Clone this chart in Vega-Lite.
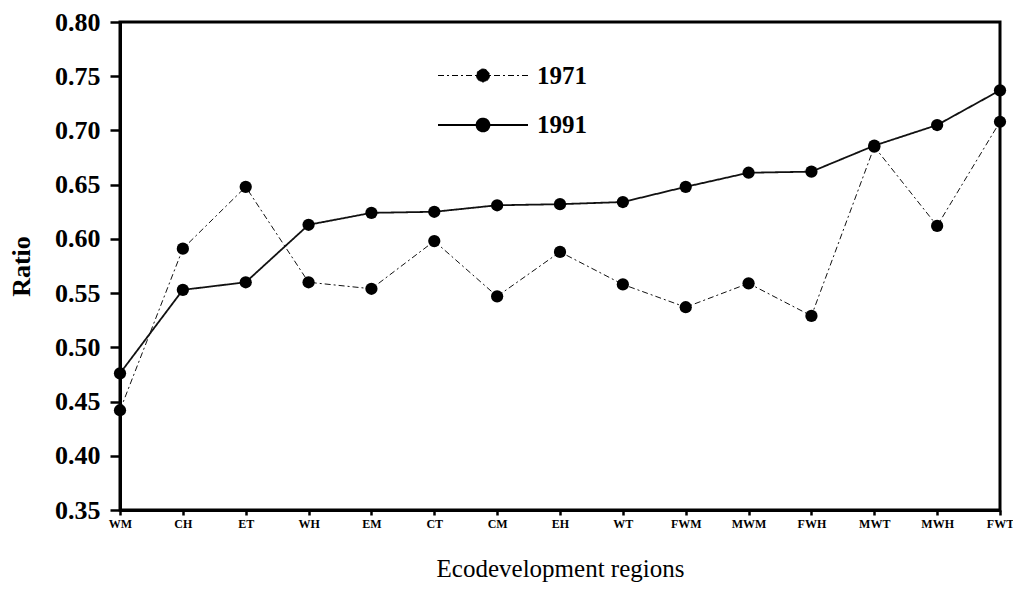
{
  "$schema": "https://vega.github.io/schema/vega-lite/v6.json",
  "width": 880,
  "height": 488,
  "autosize": {"type": "none"},
  "padding": {"left": 120, "top": 22, "right": 13, "bottom": 79},
  "background": "white",
  "config": {
    "view": {"stroke": "black", "strokeWidth": 3},
    "font": "Liberation Serif",
    "axis": {"grid": false, "domainColor": "black", "domainWidth": 3, "tickColor": "black", "tickWidth": 2.5, "labelColor": "black", "titleColor": "black", "labelFont": "Liberation Serif", "titleFont": "Liberation Serif"}
  },
  "data": {
    "values": [
      {"region": "WM", "year": "1971", "ratio": 0.442},
      {"region": "CH", "year": "1971", "ratio": 0.591},
      {"region": "ET", "year": "1971", "ratio": 0.648},
      {"region": "WH", "year": "1971", "ratio": 0.560},
      {"region": "EM", "year": "1971", "ratio": 0.554},
      {"region": "CT", "year": "1971", "ratio": 0.598},
      {"region": "CM", "year": "1971", "ratio": 0.547},
      {"region": "EH", "year": "1971", "ratio": 0.588},
      {"region": "WT", "year": "1971", "ratio": 0.558},
      {"region": "FWM", "year": "1971", "ratio": 0.537},
      {"region": "MWM", "year": "1971", "ratio": 0.559},
      {"region": "FWH", "year": "1971", "ratio": 0.529},
      {"region": "MWT", "year": "1971", "ratio": 0.685},
      {"region": "MWH", "year": "1971", "ratio": 0.612},
      {"region": "FWT", "year": "1971", "ratio": 0.708},
      {"region": "WM", "year": "1991", "ratio": 0.476},
      {"region": "CH", "year": "1991", "ratio": 0.553},
      {"region": "ET", "year": "1991", "ratio": 0.560},
      {"region": "WH", "year": "1991", "ratio": 0.613},
      {"region": "EM", "year": "1991", "ratio": 0.624},
      {"region": "CT", "year": "1991", "ratio": 0.625},
      {"region": "CM", "year": "1991", "ratio": 0.631},
      {"region": "EH", "year": "1991", "ratio": 0.632},
      {"region": "WT", "year": "1991", "ratio": 0.634},
      {"region": "FWM", "year": "1991", "ratio": 0.648},
      {"region": "MWM", "year": "1991", "ratio": 0.661},
      {"region": "FWH", "year": "1991", "ratio": 0.662},
      {"region": "MWT", "year": "1991", "ratio": 0.686},
      {"region": "MWH", "year": "1991", "ratio": 0.705},
      {"region": "FWT", "year": "1991", "ratio": 0.737}
    ]
  },
  "encoding": {
    "x": {
      "field": "region", "type": "ordinal", "sort": null,
      "scale": {"type": "point", "padding": 0},
      "axis": {"title": "Ecodevelopment regions", "labelAngle": 0, "labelFontSize": 12, "labelFontWeight": "bold", "tickSize": 5, "labelPadding": 3, "titleFontSize": 25, "titleFontWeight": "normal", "titlePadding": 27}
    },
    "y": {
      "field": "ratio", "type": "quantitative",
      "scale": {"domain": [0.35, 0.80], "zero": false, "nice": false},
      "axis": {"title": "Ratio", "values": [0.35, 0.40, 0.45, 0.50, 0.55, 0.60, 0.65, 0.70, 0.75, 0.80], "format": ".2f", "labelFontSize": 26, "labelFontWeight": "bold", "tickSize": 10, "labelPadding": 10, "titleFontSize": 26, "titleFontWeight": "bold", "titlePadding": 20}
    }
  },
  "layer": [
    {
      "mark": {"type": "line", "color": "#111"},
      "encoding": {
        "strokeDash": {
          "field": "year", "type": "nominal",
          "scale": {"domain": ["1971", "1991"], "range": [[6, 3, 2, 3], [1, 0]]},
          "legend": {
            "title": null, "orient": "none", "legendX": 347, "legendY": 38,
            "symbolType": "M-3,0L3,0M0.43,0A0.43,0.43,0,1,1,-0.43,0A0.43,0.43,0,1,1,0.43,0Z",
            "symbolSize": 900, "symbolFillColor": "black", "symbolStrokeColor": "black",
            "labelFont": "Liberation Serif", "labelFontSize": 25, "labelFontWeight": "bold", "labelColor": "black", "labelOffset": 38, "rowPadding": 20,
            "encode": {"symbols": {"update": {"fill": {"value": "black"}, "stroke": {"value": "black"}}}}
          }
        },
        "strokeWidth": {
          "field": "year", "type": "nominal",
          "scale": {"domain": ["1971", "1991"], "range": [1, 1.8]},
          "legend": null
        }
      }
    },
    {
      "mark": {"type": "point", "filled": true, "size": 150, "color": "black", "opacity": 1}
    }
  ]
}
